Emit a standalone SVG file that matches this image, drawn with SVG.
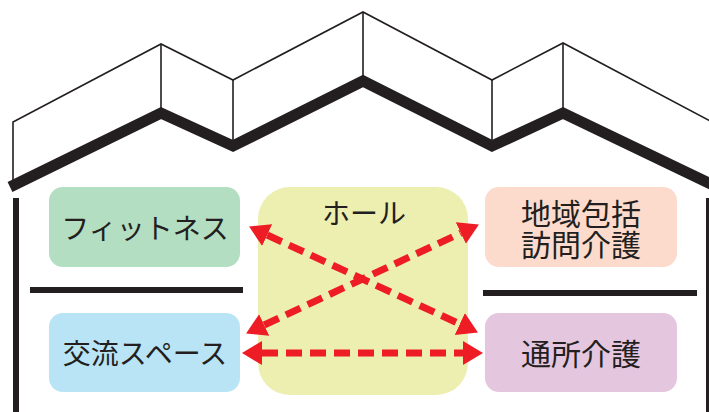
<svg xmlns="http://www.w3.org/2000/svg" width="709" height="412" viewBox="0 0 709 412">
  <defs>
    <style>
      .thin { fill: none; stroke: #231F20; stroke-width: 1.6; stroke-linejoin: miter; }
      .thick { fill: none; stroke: #231F20; stroke-width: 11; stroke-linejoin: miter; stroke-miterlimit: 10; }
      .wall { fill: none; stroke: #231F20; stroke-width: 6; }
      .lbl { font-family: "Noto Sans CJK JP", "Noto Sans", sans-serif; font-size: 28px; fill: #231F20; text-anchor: middle; }
      .big { font-size: 30px; }
      .arrow { fill: none; stroke: #EE1C25; stroke-width: 7; stroke-dasharray: 16 8; marker-start: url(#head); marker-end: url(#head); }
    </style>
    <marker id="head" markerUnits="userSpaceOnUse" markerWidth="24" markerHeight="26" refX="0" refY="12" orient="auto-start-reverse" viewBox="0 0 24 24">
      <path d="M0,0 L20,12 L0,24 Z" fill="#EE1C25"/>
    </marker>
  </defs>

  <g id="roof">
    <polyline class="thin" points="13,183 13,122 161,44 233,80 363,12 492,80 563,43 712,122"/>
    <line class="thin" x1="161" y1="44" x2="161" y2="110"/>
    <line class="thin" x1="233" y1="80" x2="233" y2="145"/>
    <line class="thin" x1="363" y1="12" x2="363" y2="78"/>
    <line class="thin" x1="492" y1="80" x2="492" y2="145"/>
    <line class="thin" x1="563" y1="43" x2="563" y2="110"/>
    <polyline class="thick" points="10,187 161,113 233,146 363,81 492,146 563,113 715,186"/>
  </g>

  <g id="walls">
    <line class="wall" x1="16" y1="198" x2="16" y2="412"/>
    <line class="wall" x1="709" y1="198" x2="709" y2="412"/>
    <line class="wall" x1="30" y1="290" x2="243" y2="290"/>
    <line class="wall" x1="483" y1="293" x2="697" y2="293"/>
  </g>

  <g id="hall">
    <rect x="258" y="187" width="210" height="208" rx="32" fill="#EDEFB0"/>
    <text class="lbl" x="364" y="224">ホール</text>
  </g>

  <g id="fitness">
    <rect x="49" y="187" width="191" height="80" rx="14" fill="#B3DEC1"/>
    <text class="lbl" x="145" y="239">フィットネス</text>
  </g>

  <g id="koryu">
    <rect x="49" y="313" width="191" height="79" rx="14" fill="#B9E4F6"/>
    <text class="lbl" x="145" y="364">交流スペース</text>
  </g>

  <g id="houmon">
    <rect x="485" y="187" width="192" height="80" rx="14" fill="#FDDBCC"/>
    <text class="lbl big" x="581" y="225">地域包括<tspan x="581" dy="31">訪問介護</tspan></text>
  </g>

  <g id="tsusho">
    <rect x="485" y="313" width="192" height="79" rx="14" fill="#E4C6DF"/>
    <text class="lbl big" x="581" y="365">通所介護</text>
  </g>

  <g id="connectors">
    <line class="arrow" x1="267.2" y1="235.0" x2="459.8" y2="324.0"/>
    <line class="arrow" x1="264.2" y1="325.0" x2="460.8" y2="233.0"/>
    <line class="arrow" x1="262" y1="353" x2="463" y2="353"/>
  </g>
</svg>
